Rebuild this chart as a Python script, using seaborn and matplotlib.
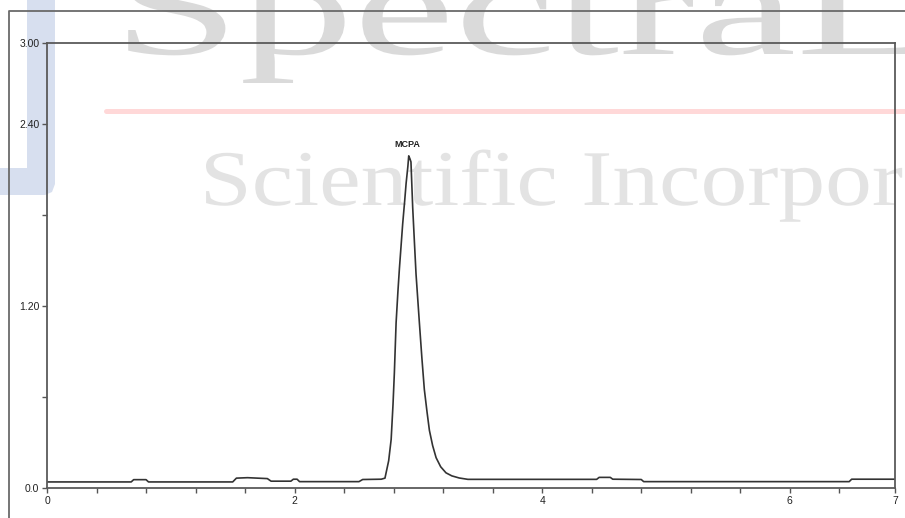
import numpy as np
import matplotlib
matplotlib.use("Agg")
import matplotlib.pyplot as plt
import seaborn as sns
import pandas as pd
from matplotlib.textpath import TextPath
from matplotlib.patches import PathPatch, Polygon
from matplotlib.font_manager import FontProperties
from matplotlib.transforms import Affine2D
from matplotlib.lines import Line2D

# chromatogram trace (time in min, signal)
time = [0.00, 0.68, 0.70, 0.80, 0.82, 1.50, 1.53, 1.62, 1.78, 1.81, 1.97, 1.99,
        2.02, 2.04, 2.52, 2.55, 2.70, 2.73, 2.76, 2.78, 2.795, 2.806, 2.82, 2.835,
        2.847, 2.873, 2.89, 2.901, 2.915, 2.922, 2.932, 2.940, 2.954, 2.968, 2.981,
        3.008, 3.028, 3.048, 3.07, 3.089, 3.115, 3.143, 3.18, 3.223, 3.27, 3.33,
        3.40, 4.44, 4.46, 4.55, 4.57, 4.80, 4.82, 6.48, 6.50, 6.85]
signal = [0.040, 0.040, 0.055, 0.055, 0.040, 0.040, 0.065, 0.068, 0.062, 0.045,
          0.045, 0.058, 0.058, 0.042, 0.042, 0.056, 0.058, 0.065, 0.18, 0.32,
          0.55, 0.76, 1.09, 1.30, 1.45, 1.74, 1.90, 2.01, 2.12, 2.19, 2.17, 2.15,
          1.85, 1.62, 1.41, 1.09, 0.86, 0.65, 0.50, 0.38, 0.28, 0.20, 0.14, 0.10,
          0.08, 0.066, 0.057, 0.057, 0.070, 0.070, 0.058, 0.056, 0.042, 0.042,
          0.058, 0.058]

peak_name = "MCPA"
peak_time = 2.922
peak_height = 2.19

ytick_vals = [0.0, 0.6, 1.2, 1.8, 2.4, 2.934]
ytick_labels = ["0.0", "", "1.20", "", "2.40", "3.00"]
xtick_vals = [0, 2, 4, 6, 6.85]
xtick_labels = ["0", "2", "4", "6", "7"]

df = pd.DataFrame({"time": time, "signal": signal})

sns.set_style("white")
plt.rcParams["font.family"] = ["Liberation Sans", "DejaVu Sans"]

W, H = 905, 518
fig = plt.figure(figsize=(W / 100, H / 100), dpi=100)
fig.patch.set_facecolor("white")
px = Affine2D().scale(1 / W, 1 / H) + fig.transFigure

# ---- watermark ----
# blue J shape at the left
blue = Polygon([(27, H), (55, H), (55, H - 184), (52, H - 192), (45, H - 195),
                (0, H - 195), (0, H - 168), (27, H - 168)],
               closed=True, transform=px, facecolor="#d7dfef", edgecolor="none", zorder=-5)
fig.add_artist(blue)

serif = FontProperties(family="Liberation Serif")

ref = TextPath((0, 0), "Spectra", size=1, prop=serif).get_extents()
sx = (793 - 128) / ref.width
sy = 29 / (-ref.y0)
tp = TextPath((0, 0), "SpectraLab", size=1, prop=serif)
tr = Affine2D().scale(sx, sy).translate(128 - ref.x0 * sx, H - 54) + px
fig.add_artist(PathPatch(tp, transform=tr, facecolor="#dadada", edgecolor="none", zorder=-5))

ref2 = TextPath((0, 0), "Scientific", size=1, prop=serif).get_extents()
refS = TextPath((0, 0), "S", size=1, prop=serif).get_extents()
sx2 = (555 - 206) / ref2.width
sy2 = 53 / refS.height
tp2 = TextPath((0, 0), "Scientific Incorporated", size=1, prop=serif)
tr2 = Affine2D().scale(sx2, sy2).translate(206 - ref2.x0 * sx2, H - 205) + px
fig.add_artist(PathPatch(tp2, transform=tr2, facecolor="#e3e3e3", edgecolor="none", zorder=-5))

fig.add_artist(Line2D([106 / W, 1], [(H - 111) / H] * 2, color="#ffd8d8", lw=3.6,
                      transform=fig.transFigure, zorder=-4))

# outer frame
fig.add_artist(Line2D([8.5 / W, 8.5 / W, 1], [0, (H - 11) / H, (H - 11) / H],
                      color="#6a6a6a", lw=1.3, transform=fig.transFigure, zorder=2))

# ---- chart ----
ax = fig.add_axes([47 / W, 30 / H, 848 / W, 445 / H])
ax.set_facecolor("none")
sns.lineplot(data=df, x="time", y="signal", ax=ax, color="#333333", lw=1.2,
             estimator=None, sort=False)

ax.set_xlim(0, 6.85)
ax.set_ylim(0, 2.934)
ax.set_xlabel("")
ax.set_ylabel("")

ax.set_yticks(ytick_vals)
ax.set_yticklabels(ytick_labels)
ax.set_xticks(xtick_vals)
ax.set_xticklabels(xtick_labels)
ax.set_xticks([v * 0.4 for v in range(1, 17) if v % 5 != 0], minor=True)

ax.tick_params(axis="both", which="both", direction="out", length=3.5, width=1,
               color="#555555", labelsize=7.5, labelcolor="#222222", pad=2,
               bottom=True, left=True, top=False, right=False)
for s in ax.spines.values():
    s.set_color("#5a5a5a")
    s.set_linewidth(1.3)
    s.set_visible(True)

ax.annotate(peak_name, (peak_time, peak_height), xytext=(-1, 5), textcoords="offset points",
            ha="center", va="bottom", fontsize=6.5, fontweight="bold", color="#222222")

fig.savefig("out.png", dpi=100)
